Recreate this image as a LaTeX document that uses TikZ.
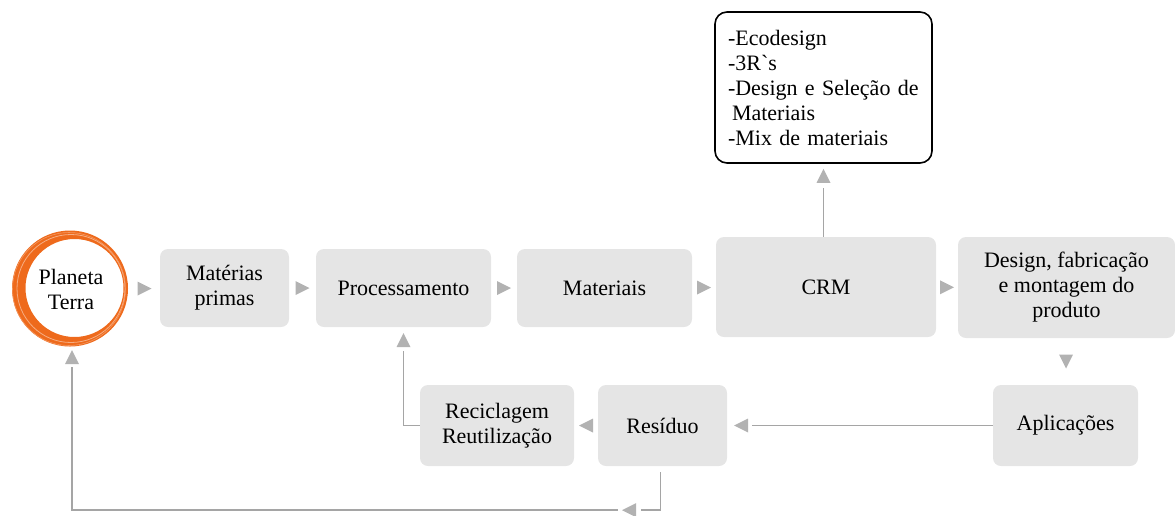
\documentclass[tikz,border=0pt]{standalone}
\usepackage{fontspec}
\setmainfont{Liberation Serif}
\newfontfamily\lser{Liberation Serif}
\newfontfamily\rawserif{Liberation Serif}[Ligatures=TeXOff]
\usetikzlibrary{calc}
\definecolor{boxgray}{RGB}{229,229,229}
\definecolor{arrowgray}{RGB}{178,178,178}
\definecolor{linegray}{RGB}{165,165,165}
\definecolor{earth}{RGB}{238,106,28}
\begin{document}
\begin{tikzpicture}[x=1pt,y=-1pt,
  txt/.style={font=\lser\fontsize{22}{25}\selectfont},
  box/.style={txt, fill=boxgray, rounded corners=8pt, inner sep=0pt, align=center},
  conn/.style={draw=linegray, line width=1.6pt},
  tri/.pic={\fill[arrowgray] (7,0) -- (-7,7) -- (-7,-7) -- cycle;}]
\useasboundingbox (0,0) rectangle (1175,515);

% Planeta Terra: brush-like orange ring
\fill[earth, even odd rule] (70,288.5) circle (58) (74.5,288) circle (49);
\draw[earth!55, line width=0.8pt] (71,288.5) circle (54);
\draw[earth!70, line width=0.6pt] (69,289) circle (56.5);
\node[txt, circle, minimum size=116pt, inner sep=0pt, align=center] (pt) at (71,289) {Planeta\\Terra};

\node[box, minimum width=129pt, minimum height=78pt] (mp) at (224.5,288) {Matérias\\primas};
\node[box, minimum width=175pt, minimum height=78pt] (proc) at (403.5,288) {Processamento};
\node[box, minimum width=175pt, minimum height=78pt] (mat) at (604.5,288) {Materiais};
\node[box, minimum width=220pt, minimum height=100pt] (crm) at (826,287) {CRM};
\node[box, minimum width=217pt, minimum height=101pt] (des) at (1066.5,287.5) {Design, fabricação\\e montagem do\\produto};
\node[box, minimum width=145pt, minimum height=81pt] (apl) at (1065.5,425.5) {Aplicações};
\node[box, minimum width=129pt, minimum height=81pt] (res) at (662.5,425.5) {Resíduo};
\node[box, minimum width=154pt, minimum height=81pt] (rec) at (497,425.5) {Reciclagem\\Reutilização};

\node[txt, draw=black, line width=1.6pt, fill=white, rounded corners=12pt,
  minimum width=217pt, minimum height=151pt, inner sep=0pt, text width=191pt, align=left] (top) at (823.5,87.5)
  {-Ecodesign\\-3R{\rawserif\symbol{96}}s\\-Design e Seleção de\\\hspace*{4pt}Materiais\\-Mix de materiais};

% triangle-only connectors
\path (pt.east) -- pic[pos=0.5]{tri} (mp.west);
\path (mp.east) -- pic[pos=0.5]{tri} (proc.west);
\path (proc.east) -- pic[pos=0.5]{tri} (mat.west);
\path (mat.east) -- pic[pos=0.5]{tri} (crm.west);
\path (crm.east) -- pic[pos=0.5]{tri} (des.west);
\path (des.south) -- pic[pos=0.5, rotate=-90]{tri} (apl.north);
\path (res.west) -- pic[pos=0.5, rotate=180]{tri} (rec.east);

% connectors with lines
\draw[conn] (crm.north -| top.south) -- ($(top.south)+(0,24)$);
\pic[rotate=90] at ($(top.south)+(0,12)$) {tri};

\draw[conn] (apl.west) -- ($(res.east)+(25,0)$);
\pic[rotate=180] at ($(res.east)+(14,0)$) {tri};

\draw[conn] (rec.west) -| ($(proc.south)+(0,24)$);
\pic[rotate=90] at ($(proc.south)+(0,13)$) {tri};

\draw[conn] ($(res.south)+(-2,6)$) |- ($(res.south)+(-22,44)$);
\pic[rotate=180] at ($(res.south)+(-33.5,44)$) {tri};
\draw[conn] ($(res.south)+(-45,44)$) -| ($(pt.south)+(1,20)$);
\pic[rotate=90] at ($(pt.south)+(1,10)$) {tri};
\end{tikzpicture}
\end{document}
